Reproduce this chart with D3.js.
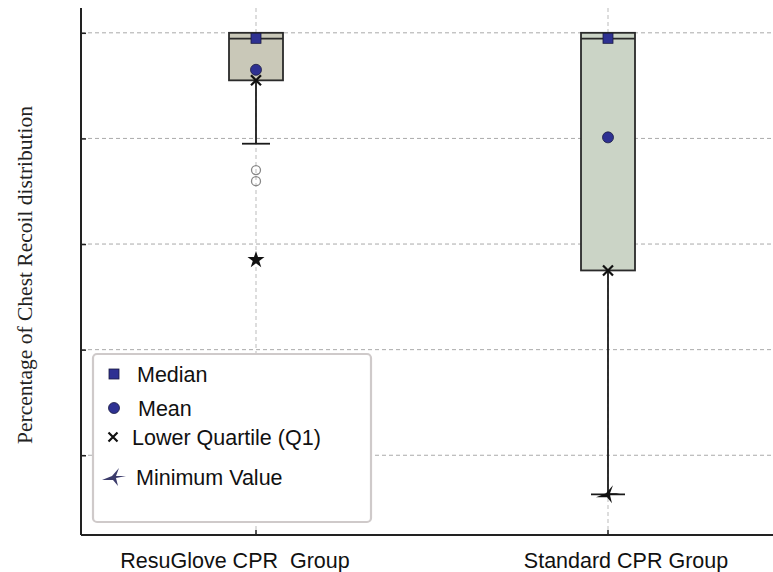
<!DOCTYPE html>
<html>
<head>
<meta charset="utf-8">
<script src="https://cdn.jsdelivr.net/npm/d3@7"></script>
<style>
  body { margin: 0; background: #fff; }
  text { font-family: "Liberation Sans", Arial, sans-serif; }
</style>
</head>
<body>
<div id="chart"></div>
<script>
// data (y axis has no labels, percent scale assumed)
var groups = ["ResuGlove CPR  Group", "Standard CPR Group"];
var q3Values = [100, 100];
var medianValues = [98.9, 98.9];
var meanValues = [93.0, 80.2];
var q1Values = [91.0, 55.0];
var whiskerLow = [79.0, 12.6];
var minValues = [57.0, 12.6];
var outliers = [[74.0, 71.9], []];
var gridTicks = [20, 40, 60, 80, 100];
var boxFills = ["#c9c8b8", "#cbd4c6"];
var legendItems = ["Median", "Mean", "Lower Quartile (Q1)", "Minimum Value"];

var width = 773, height = 572;
var margin = {top: 8, right: 0, bottom: 37, left: 81};

var svg = d3.select("#chart").append("svg")
    .attr("width", width)
    .attr("height", height);

var x = d3.scaleBand()
    .domain(groups)
    .range([80, 784])
    .padding(0);

var y = d3.scaleLinear()
    .domain([4.9, 104.7])
    .range([height - margin.bottom, margin.top]);

var cx = function(i) { return x(groups[i]) + x.bandwidth() / 2; };
var boxW = 54;

// grid lines
svg.append("g")
    .selectAll("line")
    .data(gridTicks)
    .enter().append("line")
    .attr("x1", margin.left).attr("x2", width)
    .attr("y1", function(d) { return y(d); })
    .attr("y2", function(d) { return y(d); })
    .attr("stroke", "#aaa")
    .attr("stroke-dasharray", "4,3");

svg.append("g")
    .selectAll("line")
    .data(groups)
    .enter().append("line")
    .attr("x1", function(d, i) { return cx(i); })
    .attr("x2", function(d, i) { return cx(i); })
    .attr("y1", margin.top)
    .attr("y2", height - margin.bottom)
    .attr("stroke", "#bbb")
    .attr("stroke-dasharray", "4,3");

// axes
var yAxis = svg.append("g")
    .attr("transform", "translate(" + margin.left + ",0)")
    .call(d3.axisRight(y).tickValues(gridTicks).tickSize(5).tickFormat(""));
yAxis.select(".domain").remove();
yAxis.selectAll("line").attr("stroke", "#222").attr("stroke-width", 1.5);
svg.append("line")
    .attr("x1", margin.left).attr("x2", margin.left)
    .attr("y1", margin.top).attr("y2", height - margin.bottom)
    .attr("stroke", "#222").attr("stroke-width", 2);

var xAxis = svg.append("g")
    .attr("transform", "translate(0," + (height - margin.bottom) + ")")
    .call(d3.axisTop(x).tickSize(5).tickFormat(""));
xAxis.select(".domain").remove();
xAxis.selectAll("line").attr("stroke", "#222").attr("stroke-width", 1.5);
svg.append("line")
    .attr("x1", margin.left).attr("x2", width)
    .attr("y1", height - margin.bottom).attr("y2", height - margin.bottom)
    .attr("stroke", "#222").attr("stroke-width", 2);

// labels sit a bit off the tick centres in the original
var labelShift = [-21, 18];
svg.append("g")
    .selectAll("text")
    .data(groups)
    .enter().append("text")
    .attr("x", function(d, i) { return cx(i) + labelShift[i]; })
    .attr("y", 568)
    .attr("text-anchor", "middle")
    .attr("font-size", 21.5)
    .attr("fill", "#111")
    .style("white-space", "pre")
    .text(function(d) { return d; });

svg.append("text")
    .attr("transform", "translate(32,275) rotate(-90)")
    .attr("text-anchor", "middle")
    .style("font-family", "'Liberation Serif', 'Times New Roman', serif")
    .attr("font-size", 21.5)
    .attr("fill", "#222")
    .text("Percentage of Chest Recoil distribution");

var star5 = d3.symbol().type(d3.symbolStar).size(90);
var star4 = "M12,-1L2,1L4,9L-1,3L-12,3L-2,-1L5,-9L2,-1Z";

var g = svg.append("g");
groups.forEach(function(name, i) {
  var c = cx(i);
  // whisker
  g.append("line")
    .attr("x1", c).attr("x2", c)
    .attr("y1", y(q1Values[i])).attr("y2", y(whiskerLow[i]))
    .attr("stroke", "#1a1a1a").attr("stroke-width", 1.8);
  g.append("line")
    .attr("x1", c - (i === 0 ? 14 : 17)).attr("x2", c + (i === 0 ? 14 : 17))
    .attr("y1", y(whiskerLow[i])).attr("y2", y(whiskerLow[i]))
    .attr("stroke", "#1a1a1a").attr("stroke-width", 1.8);
  // box
  g.append("rect")
    .attr("x", c - boxW / 2)
    .attr("y", y(q3Values[i]))
    .attr("width", boxW)
    .attr("height", y(q1Values[i]) - y(q3Values[i]))
    .attr("fill", boxFills[i])
    .attr("stroke", "#2a2a2a").attr("stroke-width", 1.8);
  g.append("line")
    .attr("x1", c - boxW / 2).attr("x2", c + boxW / 2)
    .attr("y1", y(medianValues[i])).attr("y2", y(medianValues[i]))
    .attr("stroke", "#2a2a2a").attr("stroke-width", 1.8);
  // outliers
  g.selectAll(null)
    .data(outliers[i])
    .enter().append("circle")
    .attr("cx", c).attr("cy", function(d) { return y(d); })
    .attr("r", 4.5)
    .attr("fill", "none").attr("stroke", "#888").attr("stroke-width", 1.3);
  // median square
  g.append("rect")
    .attr("x", c - 5).attr("y", y(q3Values[i]) + 0.5)
    .attr("width", 10).attr("height", 10)
    .attr("fill", "#2e3192").attr("stroke", "#1a1a40").attr("stroke-width", 0.8);
  // mean
  g.append("circle")
    .attr("cx", c).attr("cy", y(meanValues[i]))
    .attr("r", 5.5)
    .attr("fill", "#2e3192").attr("stroke", "#1a1a40").attr("stroke-width", 0.8);
  // Q1 cross
  g.append("path")
    .attr("transform", "translate(" + c + "," + y(q1Values[i]) + ")")
    .attr("d", "M-5,-5L5,5M-5,5L5,-5")
    .attr("stroke", "#111").attr("stroke-width", 2.2);
  // minimum star
  g.append("path")
    .attr("transform", "translate(" + c + "," + y(minValues[i]) + ")")
    .attr("d", i === 0 ? star5() : star4)
    .attr("fill", "#111");
});

// legend
var legend = svg.append("g").attr("transform", "translate(93,354)");
legend.append("rect")
  .attr("width", 278).attr("height", 168)
  .attr("rx", 4)
  .attr("fill", "#fff")
  .attr("stroke", "#cfcaca").attr("stroke-width", 2.2);

var rowY = [20, 54, 83, 123];
var textX = [44, 45, 39, 43];
legend.selectAll("text")
  .data(legendItems)
  .enter().append("text")
  .attr("x", function(d, i) { return textX[i]; })
  .attr("y", function(d, i) { return rowY[i]; })
  .attr("dy", "0.35em")
  .attr("font-size", 21.5)
  .attr("fill", "#111")
  .text(function(d) { return d; });

legend.append("rect")
  .attr("x", 16).attr("y", rowY[0] - 5).attr("width", 10).attr("height", 10)
  .attr("fill", "#2e3192").attr("stroke", "#1a1a40").attr("stroke-width", 0.8);
legend.append("circle")
  .attr("cx", 21).attr("cy", rowY[1]).attr("r", 5.5)
  .attr("fill", "#2e3192").attr("stroke", "#1a1a40").attr("stroke-width", 0.8);
legend.append("path")
  .attr("transform", "translate(20," + rowY[2] + ")")
  .attr("d", "M-4.5,-4.5L4.5,4.5M-4.5,4.5L4.5,-4.5")
  .attr("stroke", "#111").attr("stroke-width", 2.2);
legend.append("path")
  .attr("transform", "translate(21," + rowY[3] + ")")
  .attr("d", star4)
  .attr("fill", "#3b3b6b");
</script>
</body>
</html>
